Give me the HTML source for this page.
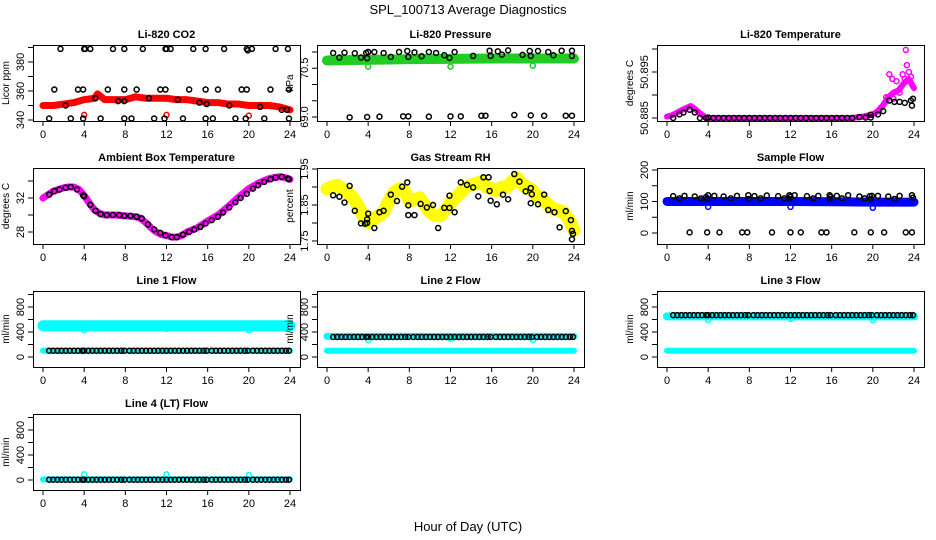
<!DOCTYPE html>
<html><head><meta charset="utf-8"><style>
body{margin:0;background:#fff}
svg{display:block;font-family:"Liberation Sans",sans-serif}
</style></head><body>
<svg id="c" width="936" height="540" viewBox="0 0 936 540">
<text x="468" y="14" text-anchor="middle" font-size="13">SPL_100713  Average Diagnostics</text>
<text x="468" y="531" text-anchor="middle" font-size="13">Hour of Day (UTC)</text>
</svg>
<script>
const xTicks=[0,4,8,12,16,20,24];
// CO2
const co2BandH=[0,1,2,3,4,5,5.3,6,7,8,9,10,11,12,13,14,15,16,17,18,19,20,21,22,23,24];
const co2BandV=[350,350,351,352,354,355,358,354,354,354,356,355,355,355,354,354,353,352,352,351,351,350,350,350,349,347];
const co2BlackH=[1.7,4,4.1,4.6,6.8,7.9,9.7,11.9,12,12.4,14.6,15.8,17.6,19.8,19.9,20.3,22.6,23.8,1.1,3.4,3.9,6.3,7.9,9.1,11.4,11.9,14.2,15.8,17,19.3,19.8,22.1,23.9,0.6,2.7,3.9,5.6,7.9,8.6,10.8,11.8,13.6,15.8,16.5,18.7,19.7,21.5,23.9,2.2,5.1,7.3,7.9,10.3,13.1,15.2,15.9,18.1,21.1,23.2,23.7];
const co2BlackV=[389,389,389,389,389,389,389,389,389,389,389,389,389,389,388,389,389,389,361,361,361,361,361,361,361,361,361,361,361,361,361,361,361,341,341,341,341,341,341,341,341,341,341,341,341,341,341,341,350,355,353,353,355,354,352,351,350,349,347,347];
const co2OutH=[4,12,20];const co2OutV=[343.5,343.5,343];
// Pressure
const prBandH=[0,4,8,12,16,20,24];
const prBandV=[70.74,70.76,70.78,70.79,70.8,70.8,70.8];
const prBlackH=[0.6,1.2,1.7,2.7,3.3,3.8,3.9,4,4.6,5.5,6.2,7,7.8,7.9,8.5,9.2,9.9,10.6,11.4,11.9,12.4,14.2,15.8,15.9,16.6,17,17.6,19,19.7,19.8,20.5,21.5,22,22.8,23.8,23.8,2.2,3.9,5.1,7.4,7.9,9.9,12,13,15,15.4,18.2,19.8,21.1,23.2,23.8];
const prBlackV=[70.97,70.83,70.98,70.96,70.83,70.97,70.81,71.0,71.0,70.97,70.85,71.0,71.03,70.85,70.99,70.87,71.0,70.97,70.9,70.82,71.0,70.88,71.04,70.88,71.02,70.92,71.05,70.91,71.03,70.88,71.03,71.0,70.9,71.04,71.04,70.88,68.99,69.0,69.01,69.02,69.02,69.01,69.02,69.02,69.04,69.04,69.06,69.05,69.04,69.04,69.04];
const prOutH=[4,12,20];const prOutV=[70.55,70.55,70.58];
// Li-820 temperature
const tBandH=[0,0.5,1,1.5,2,2.3,2.7,3.2,3.7,4,8,12,16,18,19,20,20.5,21,21.5,22,22.5,23,23.5,24];
const tBandV=[50.8853,50.8856,50.8862,50.8868,50.8873,50.8876,50.887,50.886,50.8852,50.885,50.885,50.885,50.885,50.885,50.8853,50.8858,50.8865,50.8878,50.8895,50.8905,50.891,50.8925,50.8935,50.8915];
const tMagH=[21.6,21.9,22.3,22.6,22.9,23.1,23.3,23.5,23.7,23.2,22.0,21.3];
const tMagV=[50.8945,50.8935,50.893,50.8905,50.8945,50.8935,50.8965,50.895,50.894,50.8998,50.8892,50.8895];
const tBlackH=[0.6,1.2,1.6,2.2,2.7,3.2,3.8,4,4.5,5,5.5,6,6.5,7,7.5,8,8.5,9,9.5,10,10.5,11,11.5,12,12.5,13,13.5,14,14.5,15,15.5,16,16.5,17,17.5,18,18.7,19.3,19.8,19.8,20.5,21,21.6,22.1,22.6,23.1,23.7,23.8,23.9];
const tBlackV=[50.885,50.8858,50.8862,50.8868,50.8862,50.885,50.885,50.8851,50.885,50.885,50.885,50.885,50.885,50.885,50.885,50.885,50.885,50.885,50.885,50.885,50.885,50.885,50.885,50.885,50.885,50.885,50.885,50.885,50.885,50.885,50.885,50.885,50.885,50.885,50.885,50.885,50.8852,50.8851,50.8851,50.8857,50.8858,50.8865,50.8888,50.8885,50.8885,50.8883,50.8888,50.8877,50.8892];
// Ambient
const amH=[0,0.5,1,1.5,2,2.5,3,3.5,4,4.5,5,5.5,6,7,8,9,9.5,10,10.5,11,11.5,12,12.5,13,13.5,14,15,16,17,18,19,20,21,22,23,23.5,24];
const amV=[32,32.4,32.8,33.0,33.2,33.3,33.3,33.0,32.3,31.4,30.6,30.2,30.0,30.0,29.9,29.8,29.6,29.1,28.5,28.0,27.7,27.6,27.4,27.4,27.6,28.0,28.5,29.3,30.0,31.0,32.1,33.1,33.8,34.3,34.5,34.4,34.2];
const amBlackH=[0.6,1.1,1.6,2.2,2.7,3.3,3.9,4.0,4.6,5.1,5.6,6.2,6.8,7.4,7.9,8.5,9.1,9.6,10.2,10.8,11.4,11.9,12.5,13.0,13.6,14.2,14.7,15.3,15.8,16.4,17.0,17.5,18.1,18.7,19.2,19.8,20.4,20.9,21.5,22.1,22.6,23.2,23.8,23.9];
const amBlackV=[32.4,32.8,33.0,33.2,33.3,33.0,32.3,32.2,31.2,30.5,30.1,30.0,30.0,30.0,29.9,29.9,29.8,29.6,28.9,28.3,27.9,27.6,27.4,27.4,27.7,28.0,28.3,28.6,29.0,29.4,29.8,30.3,30.9,31.5,32.0,32.5,33.1,33.5,33.9,34.2,34.4,34.5,34.3,34.2];
// Gas RH
const rhH=[0,0.5,1,1.5,2,2.5,3,3.5,4,4.5,5,5.5,6,6.5,7,7.5,8,8.5,9,9.5,10,10.5,11,11.5,12,12.5,13,13.5,14,14.5,15,15.5,16,16.5,17,17.5,18,18.5,19,19.5,20,20.5,21,21.5,22,22.5,23,23.5,24];
const rhV=[1.895,1.9,1.905,1.895,1.885,1.87,1.85,1.82,1.8,1.81,1.82,1.83,1.86,1.885,1.895,1.89,1.86,1.865,1.87,1.85,1.83,1.82,1.82,1.835,1.855,1.87,1.885,1.9,1.905,1.91,1.915,1.9,1.895,1.89,1.9,1.9,1.915,1.925,1.905,1.9,1.89,1.87,1.865,1.85,1.84,1.835,1.83,1.81,1.78];
const rhBlackH=[0.6,1.2,1.7,2.2,2.7,3.3,3.7,3.9,3.9,4,4.6,5.1,5.5,6.2,6.8,7.3,7.8,7.9,7.9,8.5,9.1,9.7,10.3,10.8,11.4,11.9,11.9,12.4,13,13.6,14.2,14.7,15.2,15.7,15.8,15.9,16.5,17.1,17.6,18.2,18.7,19.3,19.8,19.8,19.9,20.5,21.1,21.5,22.1,22.6,23.2,23.7,23.8,23.9,23.8];
const rhBlackV=[1.877,1.873,1.857,1.903,1.834,1.799,1.798,1.80,1.81,1.826,1.786,1.83,1.834,1.879,1.861,1.901,1.913,1.849,1.822,1.822,1.853,1.843,1.85,1.786,1.842,1.842,1.876,1.83,1.913,1.906,1.899,1.874,1.927,1.927,1.889,1.862,1.852,1.879,1.866,1.936,1.915,1.888,1.897,1.855,1.88,1.852,1.879,1.836,1.83,1.788,1.833,1.808,1.778,1.77,1.755];
// Sample flow
const sfBandH=[0,4,8,12,16,20,24];
const sfBandV=[100,100,100,100,99,98,98];
const sfBlackH=[0.6,1.2,1.7,2.7,3.3,3.8,3.9,4,4.6,5.5,6.2,6.8,7.9,7.9,8.5,9.1,9.7,10.8,11.4,11.9,11.9,12,12.4,13.6,14.2,14.7,15.8,15.8,15.9,16.5,17,17.6,18.7,19.2,19.7,19.8,19.9,20.5,21.5,22.1,22.6,23.8,23.9,2.2,3.9,5.1,7.3,7.8,10.2,12,13,15,15.5,18.2,19.8,21.1,23.2,23.8];
const sfBlackV=[117,110,118,116,110,114,108,120,118,116,110,118,120,108,117,110,119,117,110,120,108,115,120,117,110,118,120,108,115,118,110,120,116,110,117,108,118,118,116,108,118,120,112,2,2,2,2,2,2,2,2,2,2,2,2,2,2,2];
const sfOutH=[4,12,20];const sfOutV=[83,83,80];
// Line flows
const flowBlackH=[0.6,1,1.4,1.8,2.2,2.6,3,3.4,3.8,4,4.4,4.8,5.2,5.6,6,6.4,6.8,7.2,7.6,7.9,8.4,8.8,9.2,9.6,10,10.4,10.8,11.2,11.6,12,12.4,12.8,13.2,13.6,14,14.4,14.8,15.2,15.6,15.9,16.4,16.8,17.2,17.6,18,18.4,18.8,19.2,19.6,19.9,20.4,20.8,21.2,21.6,22,22.4,22.8,23.2,23.6,23.9];
const l1Hi=500, l1Lo=100, l1Black=100;
const l2Hi=330, l2Lo=100, l2Black=320;
const l3Hi=650, l3Lo=100, l3Black=670;
const l4Lo=10, l4Black=5;
const l1OutV=[430,450,430], l2OutV=[270,290,270], l3OutV=[590,610,590], l4OutV=[90,90,80];
const outH=[4,12,20];

const svg=document.getElementById('c');
const NS='http://www.w3.org/2000/svg';
function mk(tag,attrs,parent){const e=document.createElementNS(NS,tag);for(const k in attrs)e.setAttribute(k,attrs[k]);(parent||svg).appendChild(e);return e;}
const colX0=[43,327,667], rowTop=[45,168,291,414];

function panel(col,row,title,ylab,dom,ticks,labels,name){
  const x0=colX0[col], top=rowTop[row], bot=top+76, left=x0-10, right=x0+257;
  const g=mk('g',{});
  
  
  const xs=h=>x0+h*(247/24);
  const ys=v=>bot-(v-dom[0])/(dom[1]-dom[0])*76;
  const t=mk('text',{x:(left+right)/2,y:top-7,'text-anchor':'middle','font-size':11,'font-weight':'bold'},g);t.textContent=title;
  
  
  const ax=mk('g',{stroke:'#000','stroke-width':1,fill:'none'},g);
  
  
  mk('line',{x1:xs(0),x2:xs(24),y1:bot+0.5,y2:bot+0.5},ax);
  xTicks.forEach(h=>{mk('line',{x1:xs(h),x2:xs(h),y1:bot,y2:bot+5},ax);
    const l=mk('text',{x:xs(h),y:bot+17,'text-anchor':'middle','font-size':11,stroke:'none',fill:'#000'},g);l.textContent=h;
    
    });
  const ay=mk('g',{stroke:'#000','stroke-width':1},g);
  
  
  mk('line',{x1:left+0.5,x2:left+0.5,y1:ys(ticks[0]),y2:ys(ticks[ticks.length-1])},ay);
  ticks.forEach(v=>mk('line',{x1:left-5,x2:left,y1:ys(v),y2:ys(v)},ay));
  labels.forEach(v=>{const yy=ys(Number(v));const l=mk('text',{x:left-9,y:yy,transform:`rotate(-90 ${left-9} ${yy})`,'text-anchor':'middle','font-size':11},g);l.textContent=String(v);
    
    });
  const yt=mk('text',{x:left-24,y:(top+bot)/2,transform:`rotate(-90 ${left-24} ${(top+bot)/2})`,'text-anchor':'middle','font-size':10},g);yt.textContent=ylab;
  
  
  const plot=mk('g',{},g);
  
  
  mk('rect',{x:left+0.5,y:top+0.5,width:right-left,height:76,fill:'none',stroke:'#000'},g);
  return {g:plot,xs,ys};
}
function band(p,H,V,color,w,nm){const pts=H.map((h,i)=>p.xs(h)+','+p.ys(V[i])).join(' ');
  const e=mk('polyline',{points:pts,fill:'none',stroke:color,'stroke-width':w,'stroke-linejoin':'round','stroke-linecap':'round'},p.g);
  
  }
function pts(p,H,V,color,nm,r){H.forEach((h,i)=>{const c=mk('circle',{cx:p.xs(h),cy:p.ys(Array.isArray(V)?V[i]:V),r:r||2.5,fill:'none',stroke:color,'stroke-width':1.5},p.g);
  
  });}

let p=panel(0,0,'Li-820 CO2','Licor ppm',[339.3,391.7],[340,350,360,370,380,390],['340','360','380'],'co2');
band(p,co2BandH,co2BandV,'#f00',7,'co2-band');pts(p,co2OutH,co2OutV,'#f00','co2-outlier');pts(p,co2BlackH,co2BlackV,'#000','co2-point');
p=panel(1,0,'Li-820 Pressure','kPa',[68.877,71.215],[69,69.5,70,70.5,71],['69.0','70.5'],'pressure');
band(p,prBandH,prBandV,'#22cc22',10,'pressure-band');pts(p,prOutH,prOutV,'#22cc22','pressure-outlier');pts(p,prBlackH,prBlackV,'#000','pressure-point');
p=panel(2,0,'Li-820 Temperature','degrees C',[50.88435,50.90087],[50.885,50.89,50.895,50.9],['50.885','50.895'],'temperature');
band(p,tBandH,tBandV,'#f0f',6,'temperature-band');pts(p,tMagH,tMagV,'#f0f','temperature-scatter');pts(p,tBlackH,tBlackV,'#000','temperature-point');
p=panel(0,1,'Ambient Box Temperature','degrees C',[26.59,35.53],[28,30,32,34],['28','32'],'ambient');
band(p,amH,amV,'#f0f',7,'ambient-band');pts(p,amBlackH,amBlackV,'#000','ambient-point');
p=panel(1,1,'Gas Stream RH','percent',[1.7417,1.9528],[1.75,1.8,1.85,1.9,1.95],['1.75','1.85','1.95'],'gas-rh');
band(p,rhH,rhV,'#ff0',13,'gas-rh-band');pts(p,rhBlackH,rhBlackV,'#000','gas-rh-point');
p=panel(2,1,'Sample Flow','ml/min',[-34.9,206.3],[0,50,100,150,200],['0','100','200'],'sample-flow');
band(p,sfBandH,sfBandV,'#00f',9,'sample-flow-band');pts(p,sfOutH,sfOutV,'#00f','sample-flow-outlier');pts(p,sfBlackH,sfBlackV,'#000','sample-flow-point');
const fd=[-160,1056],ft=[0,200,400,600,800,1000],fl=['0','400','800'];
function flat(v){return [v,v];}
p=panel(0,2,'Line 1 Flow','ml/min',fd,ft,fl,'line1');
band(p,[0,24],flat(l1Hi),'#0ff',11,'line1-high-band');band(p,[0,24],flat(l1Lo),'#0ff',6,'line1-low-band');pts(p,outH,l1OutV,'#0ff','line1-outlier');pts(p,flowBlackH,l1Black,'#000','line1-point');
p=panel(1,2,'Line 2 Flow','ml/min',fd,ft,fl,'line2');
band(p,[0,24],flat(l2Hi),'#0ff',7,'line2-high-band');band(p,[0,24],flat(l2Lo),'#0ff',6,'line2-low-band');pts(p,outH,l2OutV,'#0ff','line2-outlier');pts(p,flowBlackH,l2Black,'#000','line2-point');
p=panel(2,2,'Line 3 Flow','ml/min',fd,ft,fl,'line3');
band(p,[0,24],flat(l3Hi),'#0ff',8,'line3-high-band');band(p,[0,24],flat(l3Lo),'#0ff',6,'line3-low-band');pts(p,outH,l3OutV,'#0ff','line3-outlier');pts(p,flowBlackH,l3Black,'#000','line3-point');
p=panel(0,3,'Line 4 (LT) Flow','ml/min',fd,ft,fl,'line4');
band(p,[0,24],flat(l4Lo),'#0ff',6,'line4-band');pts(p,outH,l4OutV,'#0ff','line4-outlier');pts(p,flowBlackH,l4Black,'#000','line4-point');
</script>
</body></html>
